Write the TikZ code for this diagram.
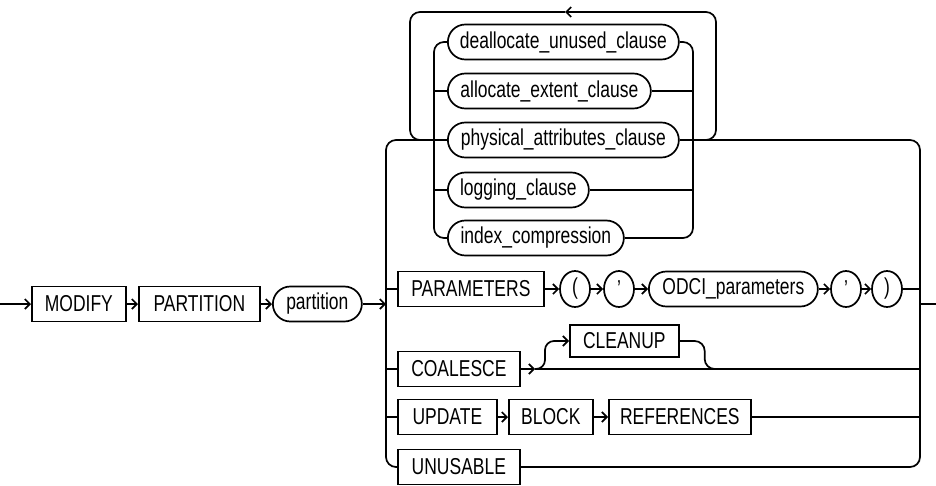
\documentclass[tikz,border=0pt]{standalone}
\usepackage{fontspec}
\setmainfont[FakeStretch=0.76]{Liberation Sans}
\usetikzlibrary{arrows.meta,shapes.misc,shapes.geometric}

\begin{document}
\begin{tikzpicture}[x=1pt, y=-1pt, line width=1.7pt,
    font=\fontsize{23}{27}\selectfont,
    kw/.style={draw, rectangle, anchor=west, minimum height=35pt, inner sep=0pt},
    nt/.style={draw, rounded rectangle, anchor=west, minimum height=35pt, inner sep=0pt},
    sym/.style={draw, ellipse, minimum width=30pt, minimum height=36pt, inner sep=0pt},
    arr/.style={-{Straight Barb[length=5pt, width=10pt]}},
    rc/.style={rounded corners=10pt}]
    \useasboundingbox (0,0) rectangle (936,485);

    \coordinate (in) at (0,304);
    \coordinate (L) at (386,304);
    \coordinate (R) at (920,304);
    \coordinate (out) at (936,304);
    \coordinate (il) at (434,140);
    \coordinate (ir) at (693,140);
    \coordinate (lbl) at (410,12);
    \coordinate (lbr) at (716,12);
    \coordinate (lbm) at (565,12);
    \coordinate (cj) at (535,369);
    \coordinate (cr) at (715,369);

    \node[kw, minimum width=94pt] (mo) at (31,304) {MODIFY};
    \node[kw, minimum width=121pt] (pn) at (138,304) {PARTITION};
    \node[nt, minimum width=89pt] (pt) at (272,304) {partition};

    \node[nt, minimum width=231pt] (de) at (447,42) {deallocate\_unused\_clause};
    \node[nt, minimum width=203pt] (al) at (447,91) {allocate\_extent\_clause};
    \node[nt, minimum width=231pt] (ph) at (447,140) {physical\_attributes\_clause};
    \node[nt, minimum width=141pt] (lo) at (447,190) {logging\_clause};
    \node[nt, minimum width=176pt] (ix) at (447,238) {index\_compression};

    \node[kw, minimum width=146pt] (pa) at (397,289) {PARAMETERS};
    \node[sym] (lp) at (575,289) {(};
    \node[sym] (q1) at (619,289) {'};
    \node[nt, minimum width=169pt] (od) at (648,289) {ODCI\_parameters};
    \node[sym] (q2) at (846,289) {'};
    \node[sym] (rp) at (887,289) {)};

    \node[kw, minimum width=122pt] (co) at (397,369) {COALESCE};
    \node[kw, minimum width=109pt, minimum height=32pt] (cl) at (569,341) {CLEANUP};
    \node[kw, minimum width=99pt] (up) at (397,417) {UPDATE};
    \node[kw, minimum width=84pt] (bk) at (508,417) {BLOCK};
    \node[kw, minimum width=142pt] (re) at (608,417) {REFERENCES};
    \node[kw, minimum width=122pt] (un) at (397,467) {UNUSABLE};

    \draw[arr] (in) -- (mo.west);
    \draw[arr] (mo.east) -- (pn.west);
    \draw[arr] (pn.east) -- (pt.west);
    \draw[arr] (pt.east) -- (L);

    \draw[rc] (ph.west) -- (L |- ph.west) |- (un.west);
    \draw (L |- pa.west) -- (pa.west);
    \draw (L |- co.west) -- (co.west);
    \draw (L |- up.west) -- (up.west);
    \draw[rc] (ph.east) -- (R |- ph.east) |- (un.east);
    \draw (rp.east) -- (R |- rp.east);
    \draw (re.east) -- (R |- re.east);
    \draw (R) -- (out);

    \draw[rc] (de.west) -- (il |- de.west) |- (ix.west);
    \draw (il |- al.west) -- (al.west);
    \draw (il |- lo.west) -- (lo.west);
    \draw[rc] (de.east) -- (ir |- de.east) |- (ix.east);
    \draw (al.east) -- (ir |- al.east);
    \draw (lo.east) -- (ir |- lo.east);

    \draw[rc, arr] (ir) -- (lbr |- ir) -- (lbr) -- (lbm);
    \draw[rc] (lbm) -- (lbl) -- (lbl |- il) -- (il);

    \draw[arr] (pa.east) -- (lp.west);
    \draw[arr] (lp.east) -- (q1.west);
    \draw[arr] (q1.east) -- (od.west);
    \draw[arr] (od.east) -- (q2.west);
    \draw[arr] (q2.east) -- (rp.west);

    \draw[arr] (co.east) -- (cj);
    \draw (cj) -- (R |- cj);
    \draw[rounded corners=9pt, arr] (cj) -- ++(10,0) |- (cl.west);
    \draw[rc] (cl.east) -- ++(25,0) |- (cr);

    \draw[arr] (up.east) -- (bk.west);
    \draw[arr] (bk.east) -- (re.west);
\end{tikzpicture}
\end{document}
